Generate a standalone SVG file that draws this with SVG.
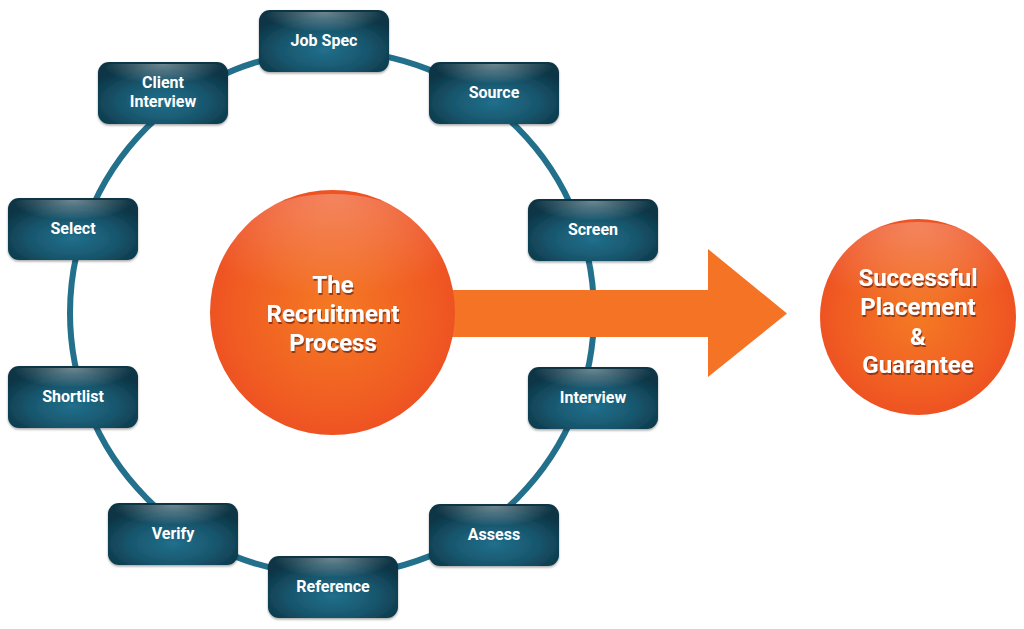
<svg xmlns="http://www.w3.org/2000/svg" width="1024" height="629" viewBox="0 0 1024 629">
<defs>
<radialGradient id="boxG" cx="50%" cy="65%" r="62%">
<stop offset="0" stop-color="#216f8c"/>
<stop offset="0.55" stop-color="#18566d"/>
<stop offset="1" stop-color="#0b3444"/>
</radialGradient>
<radialGradient id="boxHi" cx="50%" cy="0%" r="50%">
<stop offset="0" stop-color="#ffffff" stop-opacity="0.4"/>
<stop offset="1" stop-color="#ffffff" stop-opacity="0"/>
</radialGradient>
<radialGradient id="orG" cx="50%" cy="50%" r="50%">
<stop offset="0" stop-color="#f47a24"/>
<stop offset="0.85" stop-color="#f05a22"/>
<stop offset="1" stop-color="#ee5222"/>
</radialGradient>
<radialGradient id="orHi" cx="50%" cy="0%" r="75%">
<stop offset="0" stop-color="#ffffff" stop-opacity="0.28"/>
<stop offset="1" stop-color="#ffffff" stop-opacity="0"/>
</radialGradient>
<filter id="ts" x="-10%" y="-20%" width="120%" height="150%">
<feDropShadow dx="1" dy="2" stdDeviation="0.6" flood-color="#7a2a10" flood-opacity="0.8"/>
</filter>
<filter id="bs" x="-10%" y="-10%" width="120%" height="130%">
<feDropShadow dx="0" dy="1.5" stdDeviation="1" flood-color="#000" flood-opacity="0.35"/>
</filter>
</defs>
<style>
.box rect.b{fill:url(#boxG);filter:url(#bs);}
.box rect.h{fill:url(#boxHi);}
.box text{font-family:Roboto,"Liberation Sans",sans-serif;font-weight:bold;font-size:16px;fill:#ffffff;text-anchor:middle;}
.big text{font-family:Roboto,"Liberation Sans",sans-serif;font-weight:bold;font-size:24px;fill:#ffffff;text-anchor:middle;filter:url(#ts);}
</style>
<rect width="1024" height="629" fill="#ffffff"/>
<g id="connectors">
<circle cx="332" cy="313" r="262" fill="none" stroke="#22708c" stroke-width="6"/>
<polygon points="400,290 708,290 708,249 787,313.5 708,377 708,337 400,337" fill="#f47325"/>
</g>
<g id="center" class="big">
<circle cx="332.5" cy="312.5" r="122.5" fill="url(#orG)"/>
<ellipse cx="332.5" cy="262" rx="112" ry="68" fill="url(#orHi)"/>
<text x="333" y="293">The</text>
<text x="333" y="322">Recruitment</text>
<text x="333" y="351">Process</text>
</g>
<g id="placement" class="big">
<circle cx="918" cy="317" r="98" fill="url(#orG)"/>
<ellipse cx="918" cy="277" rx="90" ry="55" fill="url(#orHi)"/>
<text x="918" y="286">Successful</text>
<text x="918" y="315">Placement</text>
<text x="918" y="345">&amp;</text>
<text x="918" y="373">Guarantee</text>
</g>
<g id="jobspec" class="box"><rect class="b" x="259" y="10" width="130" height="62" rx="11"/><rect class="h" x="263" y="12" width="122" height="40" rx="9"/><text x="324" y="46">Job Spec</text></g>
<g id="client" class="box"><rect class="b" x="98" y="62" width="130" height="62" rx="11"/><rect class="h" x="102" y="64" width="122" height="40" rx="9"/><text x="163" y="88">Client</text><text x="163" y="107">Interview</text></g>
<g id="source" class="box"><rect class="b" x="429" y="62" width="130" height="62" rx="11"/><rect class="h" x="433" y="64" width="122" height="40" rx="9"/><text x="494" y="98">Source</text></g>
<g id="select" class="box"><rect class="b" x="8" y="198" width="130" height="62" rx="11"/><rect class="h" x="12" y="200" width="122" height="40" rx="9"/><text x="73" y="234">Select</text></g>
<g id="screen" class="box"><rect class="b" x="528" y="199" width="130" height="62" rx="11"/><rect class="h" x="532" y="201" width="122" height="40" rx="9"/><text x="593" y="235">Screen</text></g>
<g id="shortlist" class="box"><rect class="b" x="8" y="366" width="130" height="62" rx="11"/><rect class="h" x="12" y="368" width="122" height="40" rx="9"/><text x="73" y="402">Shortlist</text></g>
<g id="interview" class="box"><rect class="b" x="528" y="367" width="130" height="62" rx="11"/><rect class="h" x="532" y="369" width="122" height="40" rx="9"/><text x="593" y="403">Interview</text></g>
<g id="verify" class="box"><rect class="b" x="108" y="503" width="130" height="62" rx="11"/><rect class="h" x="112" y="505" width="122" height="40" rx="9"/><text x="173" y="539">Verify</text></g>
<g id="assess" class="box"><rect class="b" x="429" y="504" width="130" height="62" rx="11"/><rect class="h" x="433" y="506" width="122" height="40" rx="9"/><text x="494" y="540">Assess</text></g>
<g id="reference" class="box"><rect class="b" x="268" y="556" width="130" height="62" rx="11"/><rect class="h" x="272" y="558" width="122" height="40" rx="9"/><text x="333" y="592">Reference</text></g>
</svg>
